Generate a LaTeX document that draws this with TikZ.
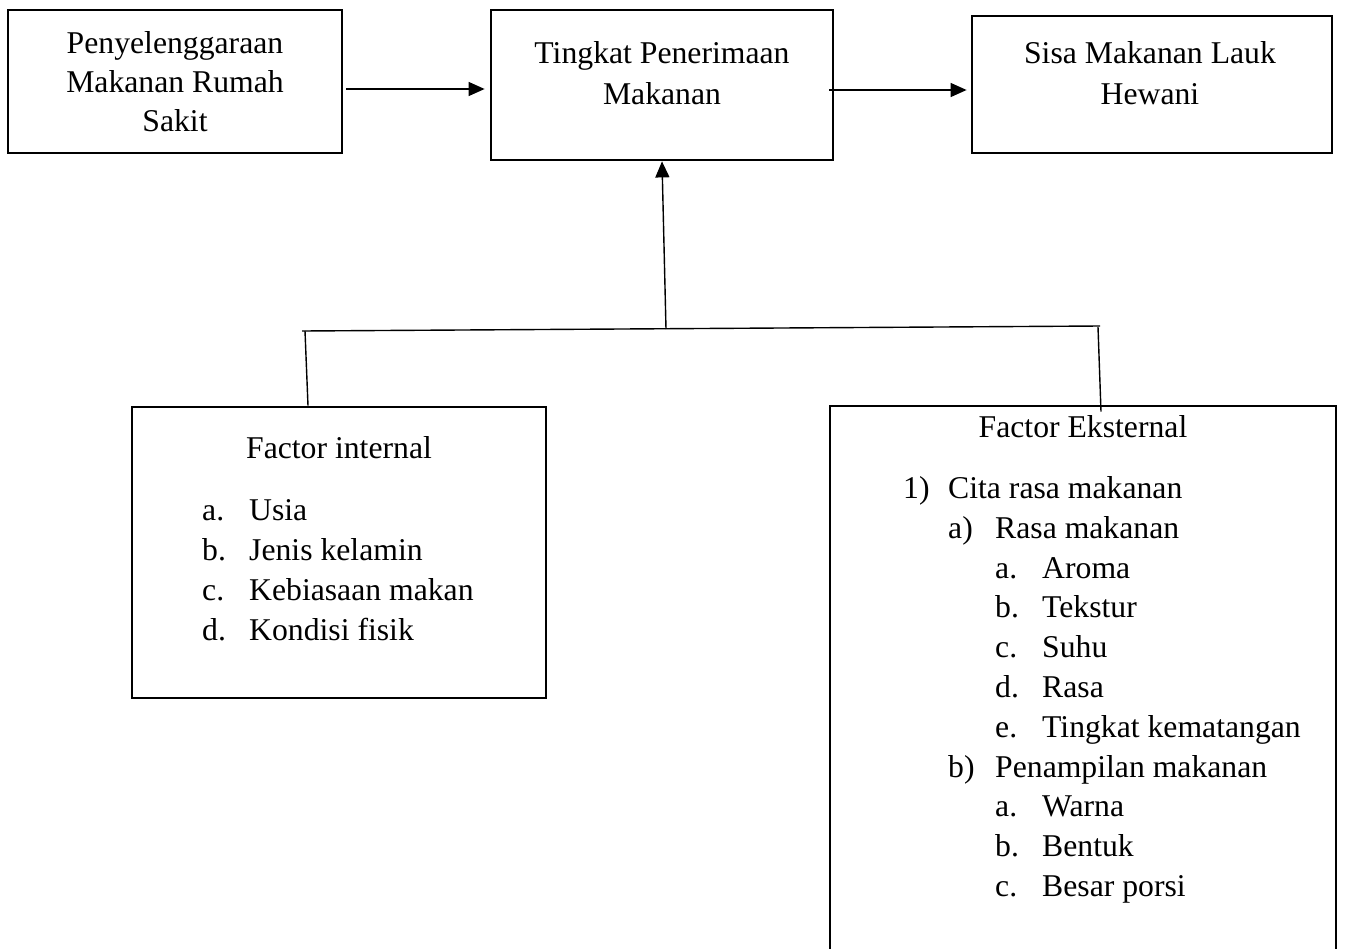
\documentclass[tikz,border=0pt]{standalone}
\usepackage{fontspec}
\setmainfont{Liberation Serif}
\usetikzlibrary{arrows.meta}
\begin{document}
\begin{tikzpicture}[x=1pt,y=-1pt,
  box/.style={draw,line width=2.8pt,inner sep=0pt},
  conn/.style={line width=1.4pt},
  arr/.style={conn,-{Triangle[length=16pt,width=14pt]}},
  txt/.style={inner sep=0pt,anchor=base,font=\fontsize{31.7}{40}\selectfont},
  txtw/.style={txt,anchor=base west}]
\useasboundingbox (0,0) rectangle (1347,948);
% boxes
\node[box,minimum width=334pt,minimum height=143pt] (b1) at (175,81.5) {};
\node[box,minimum width=342pt,minimum height=150pt] (b2) at (662,85) {};
\node[box,minimum width=360pt,minimum height=137pt] (b3) at (1152,84.5) {};
\node[box,minimum width=414pt,minimum height=291pt] (bi) at (339,552.5) {};
\node[box,minimum width=506pt,minimum height=580pt] (be) at (1083,696) {};
% box texts
\node[txt] (t1a) at (175,53) {Penyelenggaraan};
\node[txt] (t1b) at (175,92) {Makanan Rumah};
\node[txt] (t1c) at (175,131) {Sakit};
\node[txt] (t2a) at (662,63) {Tingkat Penerimaan};
\node[txt] (t2b) at (662,104) {Makanan};
\node[txt] (t3a) at (1150,63) {Sisa Makanan Lauk};
\node[txt] (t3b) at (1150,104) {Hewani};
% internal
\node[txt] (ti) at (339,458) {Factor internal};
\node[txtw] (ia) at (202,520) {a.};  \node[txtw] (iat) at (249,520) {Usia};
\node[txtw] (ib) at (202,560) {b.};  \node[txtw] (ibt) at (249,560) {Jenis kelamin};
\node[txtw] (ic) at (202,600) {c.};  \node[txtw] (ict) at (249,600) {Kebiasaan makan};
\node[txtw] (id) at (202,640) {d.};  \node[txtw] (idt) at (249,640) {Kondisi fisik};
% external
\node[txt] (te) at (1083,437) {Factor Eksternal};
\node[txtw] (e1) at (903,498) {1)};  \node[txtw] (e1t) at (948,498) {Cita rasa makanan};
\node[txtw] (ea) at (948,538) {a)};  \node[txtw] (eat) at (995,538) {Rasa makanan};
\node[txtw] (ea1) at (995,578) {a.}; \node[txtw] (ea1t) at (1042,578) {Aroma};
\node[txtw] (ea2) at (995,617) {b.}; \node[txtw] (ea2t) at (1042,617) {Tekstur};
\node[txtw] (ea3) at (995,657) {c.}; \node[txtw] (ea3t) at (1042,657) {Suhu};
\node[txtw] (ea4) at (995,697) {d.}; \node[txtw] (ea4t) at (1042,697) {Rasa};
\node[txtw] (ea5) at (995,737) {e.}; \node[txtw] (ea5t) at (1042,737) {Tingkat kematangan};
\node[txtw] (eb) at (948,777) {b)};  \node[txtw] (ebt) at (995,777) {Penampilan makanan};
\node[txtw] (eb1) at (995,816) {a.}; \node[txtw] (eb1t) at (1042,816) {Warna};
\node[txtw] (eb2) at (995,856) {b.}; \node[txtw] (eb2t) at (1042,856) {Bentuk};
\node[txtw] (eb3) at (995,896) {c.}; \node[txtw] (eb3t) at (1042,896) {Besar porsi};
% connectors
\draw[arr] ([shift={(3,7.5)}]b1.east) -- ([shift={(-5,4)}]b2.west);
\draw[arr] ([shift={(-5,5)}]b2.east) -- ([shift={(-4,5.5)}]b3.west);
\coordinate (jn) at (666,329);
\coordinate (hl) at (302,331);
\coordinate (hr) at (1100,326);
\coordinate (lv) at (305,331);
\coordinate (rv) at (1098,327);
\draw[arr] (jn) -- (b2.south);
\draw[conn] (hl) -- (hr);
\draw[conn] (lv) -- ([shift={(-31,0)}]bi.north);
\draw[conn] (rv) -- ([shift={(18,7)}]be.north);
\end{tikzpicture}
\end{document}
